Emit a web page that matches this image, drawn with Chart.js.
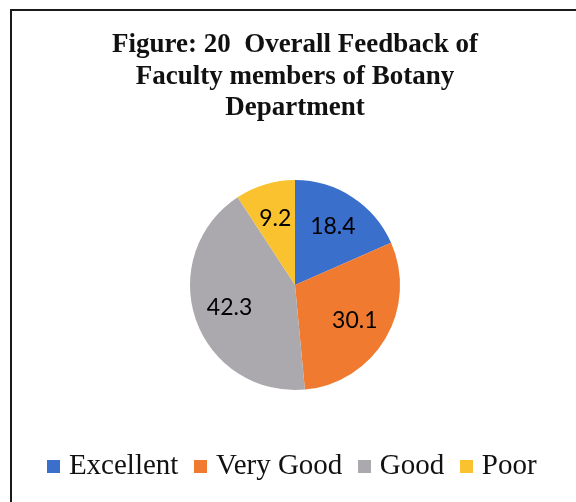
<!DOCTYPE html>
<html>
<head>
<meta charset="utf-8">
<script src="https://cdn.jsdelivr.net/npm/chart.js@4/dist/chart.umd.min.js"></script>
<style>
  html, body { margin: 0; padding: 0; background: #ffffff; }
  #wrap { position: relative; width: 576px; height: 502px; overflow: hidden; }
  #frame { position: absolute; left: 10px; top: 9px; width: 700px; height: 700px;
           border-left: 2px solid #1a1a1a; border-top: 2px solid #1a1a1a; }
  #c { position: absolute; left: 0; top: 0; }
</style>
</head>
<body>
<div id="wrap">
  <div id="frame"></div>
  <canvas id="c" width="576" height="502"></canvas>
</div>
<script>
const categories = ["Excellent", "Very Good", "Good", "Poor"];
const values = [18.4, 30.1, 42.3, 9.2];
const colors = ["#3a6fcc", "#f07a30", "#aba8ae", "#f9c22e"];
const titleLines = ["Figure: 20  Overall Feedback of", "Faculty members of Botany", "Department"];

function swatch(color) {
  const cv = document.createElement('canvas');
  cv.width = 13; cv.height = 13;
  const g = cv.getContext('2d');
  g.fillStyle = color;
  g.fillRect(0, 0, 13, 13);
  return cv;
}
const swatches = colors.map(swatch);

const sliceLabels = {
  id: 'sliceLabels',
  afterDatasetsDraw(chart) {
    const ctx = chart.ctx;
    const meta = chart.getDatasetMeta(0);
    ctx.save();
    ctx.font = '23px Lato, "Open Sans", sans-serif';
    ctx.fillStyle = '#000000';
    ctx.textAlign = 'center';
    ctx.textBaseline = 'middle';
    meta.data.forEach((arc, i) => {
      const p = arc.getProps(['x', 'y', 'startAngle', 'endAngle', 'outerRadius'], true);
      const mid = (p.startAngle + p.endAngle) / 2;
      const r = p.outerRadius * 0.66;
      ctx.fillText(String(chart.data.datasets[0].data[i]), p.x + Math.cos(mid) * r, p.y + Math.sin(mid) * r);
    });
    ctx.restore();
  }
};

new Chart(document.getElementById('c'), {
  type: 'pie',
  data: {
    labels: categories,
    datasets: [{
      data: values,
      backgroundColor: colors,
      borderWidth: 0,
      radius: 105
    }]
  },
  options: {
    responsive: false,
    animation: false,
    layout: { padding: { top: 10, left: 14, right: 0, bottom: 11 } },
    plugins: {
      tooltip: { enabled: false },
      title: {
        display: true,
        text: titleLines,
        color: '#111111',
        font: { family: '"Liberation Serif", "Times New Roman", serif', size: 27, weight: 'bold', lineHeight: 1.15 },
        padding: { top: 20, bottom: 17 }
      },
      legend: {
        position: 'bottom',
        labels: {
          color: '#111111',
          font: { family: '"Liberation Serif", "Times New Roman", serif', size: 29 },
          usePointStyle: true,
          boxWidth: 1,
          boxHeight: 13,
          padding: 22,
          generateLabels(chart) {
            const items = Chart.overrides.pie.plugins.legend.labels.generateLabels(chart);
            items.forEach((it, i) => { it.pointStyle = swatches[i]; });
            return items;
          }
        }
      }
    }
  },
  plugins: [sliceLabels]
});
</script>
</body>
</html>
